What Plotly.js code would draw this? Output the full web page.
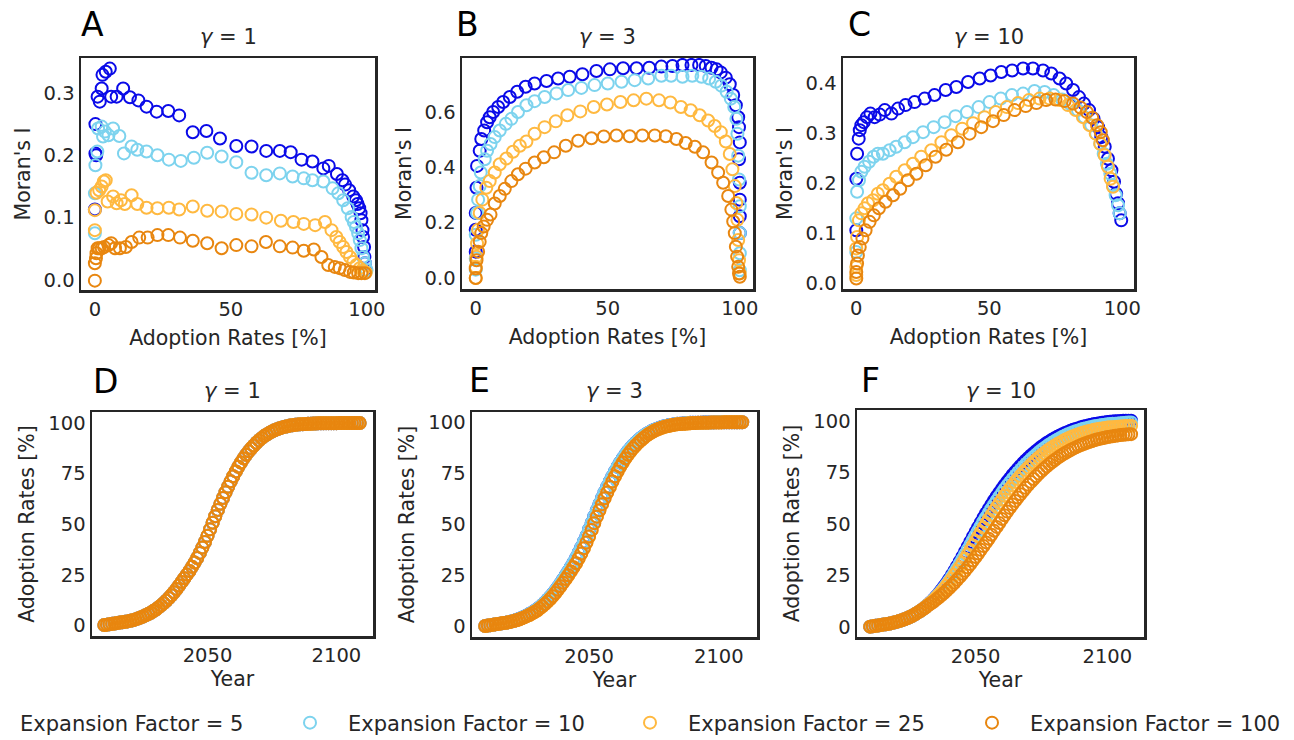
<!DOCTYPE html>
<html><head><meta charset="utf-8">
<script src="https://cdn.plot.ly/plotly-3.0.1.min.js"></script>
<style>
html,body{margin:0;padding:0;overflow:hidden;background:#fff;width:1294px;height:740px}
#chart{position:absolute;left:-56px;top:0;width:1400px;height:740px}
</style>
</head><body><div id="chart"></div>
<script>
// ---------------- DATA ----------------
const seriesNames = ["Expansion Factor = 5","Expansion Factor = 10","Expansion Factor = 25","Expansion Factor = 100"];
const gammaLabels = ["1","3","10"];
const panelLetters = ["A","B","C","D","E","F"];

// Panel A (gamma = 1): Moran's I vs adoption rate
const moranA_x5 = [0,0.2,0.5,0.2,1.0,1.8,2.5,2.8,4,5.5,6,8,10.4,12.9,16,19,22.7,27,31,36,41,46,52,57.6,63,68,72,76,80,84,86,89,91,92,93.5,95,96,96.6,97.2,97.7,98,98.4,98.6,99,99.1,99.3,99.5];
const moranA_y5 = [0.113,0.203,0.200,0.250,0.294,0.286,0.307,0.329,0.334,0.339,0.294,0.294,0.307,0.293,0.288,0.278,0.270,0.271,0.264,0.237,0.239,0.227,0.215,0.214,0.207,0.207,0.205,0.193,0.190,0.179,0.183,0.170,0.160,0.153,0.144,0.134,0.128,0.122,0.115,0.107,0.096,0.080,0.069,0.053,0.037,0.027,0.016];
const moranA_x10 = [0,0,0.2,0.9,1.2,2.5,3.7,3,5,6.7,9,10.7,13.5,15.6,19,23,27.2,31.6,36.4,41.3,46.6,52,57.6,63,68,72.7,76.8,80,84,87.4,89.5,91.3,93,94.4,95.2,96,96.8,97.4,98,98.6,99.3,99.9];
const moranA_y10 = [0.075,0.139,0.184,0.206,0.243,0.246,0.238,0.230,0.232,0.243,0.231,0.203,0.214,0.209,0.206,0.200,0.193,0.191,0.196,0.204,0.198,0.189,0.172,0.168,0.171,0.166,0.163,0.160,0.158,0.147,0.139,0.128,0.115,0.101,0.093,0.085,0.075,0.064,0.051,0.037,0.027,0.016];
const moranA_x25 = [0,0,0.6,1.6,2.5,3.3,4,4.7,6.7,8,9.6,11,13.5,15.6,19,23,27.2,31,36,41.3,46.6,52,57.6,63,68.4,73,76.8,81,84.6,87,88.8,90,91.3,92.5,93.8,95,96.2,97.4,98.6,99.6];
const moranA_y25 = [0.080,0.112,0.140,0.144,0.150,0.158,0.160,0.126,0.134,0.123,0.128,0.122,0.136,0.122,0.116,0.115,0.116,0.113,0.118,0.111,0.110,0.106,0.105,0.100,0.095,0.093,0.090,0.088,0.093,0.080,0.069,0.061,0.053,0.045,0.037,0.029,0.024,0.019,0.015,0.012];
const moranA_x100 = [0,0,0.4,0.6,1,1.6,2.5,3.4,5,6,7.4,9.2,11.4,13.5,16.3,19.4,23,27,31.3,36,41.3,46.6,52,57.6,62.9,68,72.7,76.8,80.5,83.3,85.8,88.2,90,91.9,93.8,95.2,96.8,98,99.3];
const moranA_y100 = [-0.001,0.027,0.035,0.043,0.051,0.051,0.051,0.053,0.056,0.059,0.051,0.051,0.053,0.061,0.068,0.068,0.072,0.072,0.068,0.063,0.059,0.051,0.056,0.054,0.061,0.054,0.052,0.047,0.049,0.037,0.024,0.021,0.019,0.016,0.013,0.012,0.011,0.011,0.011];

// Panel B (gamma = 3)
const moranB_x5 = [0,0,0,0.3,0.5,1.5,2.1,3.2,4.3,5.3,6.6,8.5,10.4,12.9,15.7,18.9,22.3,26.8,31.2,35.6,40.4,45.7,50.8,55.8,60.9,65.7,70.3,74.5,78.3,81.7,84.6,87.1,89.3,91.2,92.8,94.7,96.2,97.5,98.5,99.4,99.7,100,99.7,100,100,100,100];
const moranB_y5 = [0.095,0.174,0.235,0.326,0.405,0.460,0.502,0.533,0.563,0.581,0.600,0.618,0.636,0.654,0.673,0.691,0.703,0.712,0.721,0.727,0.736,0.748,0.754,0.758,0.758,0.760,0.764,0.766,0.770,0.770,0.770,0.766,0.760,0.754,0.743,0.724,0.700,0.661,0.624,0.581,0.545,0.490,0.429,0.344,0.283,0.223,0.162];
const moranB_x10 = [0,0,0,0.5,0.9,1.5,1.9,3.4,4.3,5.6,7.2,9.1,11.4,13.5,16,19.2,22.3,26.1,30.6,35,40,45,50,55.2,60.2,65.3,70.3,74,78.3,82,85.5,88.4,90.9,93,95,96.6,97.9,98.7,99.1,99.4,99.7,100,100,100,100];
const moranB_y10 = [0.030,0.070,0.156,0.235,0.283,0.332,0.381,0.429,0.460,0.484,0.509,0.533,0.557,0.575,0.600,0.624,0.639,0.654,0.667,0.679,0.687,0.697,0.703,0.709,0.715,0.721,0.731,0.731,0.727,0.731,0.727,0.721,0.709,0.695,0.673,0.648,0.618,0.575,0.521,0.442,0.356,0.259,0.162,0.089,0.028];
const moranB_x25 = [0,0,0.3,0.5,0.9,1.5,2.5,4,5.3,7.2,9.1,11.6,14.1,16.7,19.2,22.3,26.1,30.3,34.7,39.6,44.7,49.7,54.8,59.8,64.6,69.4,73.7,77.7,81.4,84.8,88,90.5,92.8,94.7,96.2,97.2,98.1,98.7,99.1,99.4,99.7,100];
const moranB_y25 = [0.000,0.040,0.077,0.125,0.174,0.235,0.283,0.326,0.350,0.381,0.411,0.432,0.456,0.478,0.493,0.521,0.545,0.566,0.588,0.602,0.618,0.627,0.636,0.642,0.648,0.642,0.634,0.618,0.606,0.588,0.569,0.549,0.527,0.493,0.448,0.393,0.332,0.271,0.210,0.137,0.064,0.016];
const moranB_x100 = [0,0,0.3,0.9,1.5,2.1,3,4.3,5.6,7.2,9.1,11,13.5,16,18.9,22.3,25.8,29.7,34.1,38.8,43.8,48.5,53.3,58.3,63.1,67.8,72,76,79.5,83,86.1,89.3,91.8,93.7,95.6,96.8,97.5,98.1,98.5,99,99.4,99.7,100];
const moranB_y100 = [0.000,0.034,0.064,0.095,0.131,0.162,0.186,0.210,0.229,0.269,0.296,0.322,0.350,0.375,0.395,0.417,0.436,0.454,0.478,0.496,0.505,0.511,0.515,0.512,0.515,0.515,0.512,0.502,0.488,0.474,0.454,0.417,0.381,0.344,0.296,0.247,0.204,0.162,0.113,0.077,0.040,0.016,0.004];

// Panel C (gamma = 10)
const moranC_x5 = [0,0,0.3,0.9,1.3,1.9,2.8,4,5.3,6.9,8.8,10.7,13.2,15.7,18.5,21.9,25.7,29.4,33.6,37.6,42,46.4,50.5,54.5,58.6,62.7,66.4,70.2,73.3,76.4,78.9,81.5,83.7,85.6,87.5,89.2,90.9,92.1,93.4,94.6,95.9,96.9,97.7,98.4,99,99.6];
const moranC_y5 = [0.106,0.209,0.259,0.289,0.306,0.316,0.322,0.332,0.339,0.332,0.337,0.346,0.339,0.349,0.356,0.362,0.369,0.376,0.386,0.392,0.402,0.409,0.415,0.422,0.425,0.429,0.429,0.425,0.419,0.409,0.399,0.386,0.372,0.359,0.346,0.329,0.312,0.292,0.273,0.249,0.226,0.203,0.179,0.160,0.140,0.126];
const moranC_x10 = [0,0,0.3,1,1.9,3.1,4.8,6.5,8.1,10,12.5,15,18.2,21.3,25.1,29.1,33.2,37.3,41.6,46,50.1,54.3,58.5,62.7,67,70.8,74.2,77.4,80.5,83.3,85.8,88.3,90.2,91.7,93,94.2,95.5,96.5,97.5,98.4,99];
const moranC_y10 = [0.063,0.130,0.183,0.206,0.223,0.233,0.243,0.253,0.259,0.259,0.266,0.273,0.282,0.292,0.302,0.312,0.322,0.334,0.342,0.352,0.362,0.369,0.376,0.379,0.384,0.382,0.376,0.367,0.358,0.346,0.332,0.316,0.299,0.279,0.259,0.239,0.219,0.196,0.176,0.156,0.140];
const moranC_x25 = [0,0,0,0.3,1,1.9,3.1,4.4,6.3,8.1,10,12.5,15,18.2,21.3,24.4,28.2,32,35.7,39.8,43.9,48.2,52.4,56.6,60.8,64.9,68.9,72.7,76.4,79.6,82.5,85.2,87.7,90,91.7,93.4,94.6,95.6,96.5];
const moranC_y25 = [0.017,0.033,0.070,0.093,0.126,0.140,0.150,0.160,0.166,0.179,0.186,0.199,0.213,0.226,0.239,0.253,0.266,0.282,0.296,0.309,0.320,0.332,0.342,0.352,0.360,0.366,0.369,0.369,0.366,0.356,0.346,0.332,0.316,0.299,0.279,0.256,0.233,0.209,0.193];
const moranC_x100 = [0,0,0.3,0.6,1.3,2.3,3.5,5,6.6,8.5,11,13.8,16.5,19.4,22.6,26.1,29.8,33.8,38.2,42.6,47,51.4,55.4,59.5,63.7,67.7,71.4,74.9,78.3,81.5,84.3,86.7,88.7,90.5,91.9,92.7];
const moranC_y100 = [0.010,0.023,0.040,0.056,0.073,0.090,0.106,0.123,0.136,0.150,0.163,0.176,0.189,0.206,0.219,0.236,0.253,0.267,0.282,0.299,0.312,0.324,0.336,0.346,0.354,0.360,0.366,0.367,0.364,0.359,0.351,0.342,0.331,0.316,0.302,0.286];

// Bottom panels: adoption rate [%] per year
const years = [
 2010,2011,2012,2013,2014,2015,2016,2017,2018,2019,
 2020,2021,2022,2023,2024,2025,2026,2027,2028,2029,
 2030,2031,2032,2033,2034,2035,2036,2037,2038,2039,
 2040,2041,2042,2043,2044,2045,2046,2047,2048,2049,
 2050,2051,2052,2053,2054,2055,2056,2057,2058,2059,
 2060,2061,2062,2063,2064,2065,2066,2067,2068,2069,
 2070,2071,2072,2073,2074,2075,2076,2077,2078,2079,
 2080,2081,2082,2083,2084,2085,2086,2087,2088,2089,
 2090,2091,2092,2093,2094,2095,2096,2097,2098,2099,
 2100,2101,2102,2103,2104,2105,2106,2107,2108,2109];

// gamma = 1 : all four expansion factors coincide
const adoptG1 = [
 0.3,0.5,0.7,0.9,1.1,1.3,1.5,1.7,1.9,2.1,
 2.4,2.7,3.1,3.5,4.0,4.5,5.1,5.7,6.4,7.2,
 8.0,9.0,10.0,11.1,12.3,13.6,15.0,16.5,18.1,19.8,
 21.6,23.4,25.2,27.0,29.0,31.1,33.4,35.9,38.5,41.3,
 44.3,47.5,50.8,54.0,57.1,60.1,63.0,65.8,68.5,71.2,
 73.7,76.1,78.4,80.5,82.5,84.3,86.0,87.5,88.9,90.2,
 91.4,92.5,93.5,94.3,95.1,95.8,96.4,96.9,97.4,97.8,
 98.1,98.4,98.7,98.9,99.1,99.2,99.3,99.4,99.5,99.6,
 99.6,99.7,99.7,99.8,99.8,99.8,99.9,99.9,99.9,99.9,
 99.9,100,100,100,100,100,100,100,100,100];

// gamma = 3 : EF 5 and 10 slightly ahead, EF 25 and 100 slower
const adoptG3Fast = [
 0.3,0.5,0.7,0.9,1.1,1.3,1.5,1.7,1.9,2.2,
 2.5,2.8,3.2,3.7,4.2,4.8,5.4,6.1,6.8,7.6,
 8.5,9.5,10.6,11.8,13.1,14.5,16.0,17.6,19.3,21.1,
 23.0,25.0,27.0,29.1,31.3,33.6,36.1,38.7,41.5,44.4,
 47.5,50.7,53.9,57.0,60.0,62.9,65.7,68.4,71.0,73.5,
 75.9,78.2,80.3,82.3,84.1,85.8,87.3,88.7,90.0,91.2,
 92.3,93.2,94.1,94.9,95.6,96.2,96.7,97.2,97.6,98.0,
 98.3,98.6,98.8,99.0,99.2,99.3,99.4,99.5,99.6,99.7,
 99.7,99.8,99.8,99.8,99.9,99.9,99.9,99.9,99.9,100,
 100,100,100,100,100,100,100,100,100,100];
const adoptG3Slow = [
 0.3,0.5,0.7,0.9,1.1,1.3,1.5,1.7,1.9,2.1,
 2.4,2.7,3.1,3.5,4.0,4.5,5.1,5.7,6.4,7.1,
 7.9,8.9,9.9,11.0,12.2,13.5,14.9,16.4,18.0,19.7,
 21.5,23.3,25.1,27.0,29.0,31.0,33.3,35.7,38.3,41.1,
 44.1,47.3,50.6,53.8,56.9,59.9,62.8,65.6,68.3,71.0,
 73.5,75.9,78.2,80.3,82.3,84.1,85.8,87.3,88.7,90.0,
 91.2,92.3,93.3,94.2,95.0,95.7,96.3,96.8,97.3,97.7,
 98.0,98.3,98.6,98.8,99.0,99.1,99.2,99.3,99.4,99.5,
 99.6,99.6,99.7,99.7,99.8,99.8,99.8,99.9,99.9,99.9,
 99.9,99.9,100,100,100,100,100,100,100,100];

// gamma = 10 : expansion factors diverge
const adoptG10_5 = [
 0.3,0.5,0.7,0.9,1.1,1.3,1.5,1.7,2.0,2.3,
 2.6,3.0,3.4,3.9,4.4,5.0,5.6,6.3,7.1,7.9,
 8.8,9.8,10.9,12.1,13.4,14.8,16.3,17.9,19.6,21.4,
 23.3,25.3,27.4,29.6,31.9,34.2,36.6,39.0,41.4,43.8,
 46.2,48.5,50.8,53.0,55.2,57.3,59.4,61.4,63.3,65.2,
 67.0,68.8,70.5,72.1,73.7,75.2,76.7,78.1,79.5,80.8,
 82.0,83.2,84.3,85.4,86.4,87.4,88.3,89.2,90.0,90.8,
 91.5,92.2,92.9,93.5,94.1,94.6,95.1,95.6,96.0,96.4,
 96.8,97.2,97.5,97.8,98.1,98.4,98.6,98.8,99.0,99.2,
 99.4,99.5,99.6,99.7,99.8,99.9,100,100,100,100];
const adoptG10_10 = [
 0.3,0.5,0.7,0.9,1.1,1.3,1.5,1.7,2.0,2.3,
 2.6,3.0,3.4,3.9,4.4,5.0,5.6,6.3,7.1,7.9,
 8.8,9.8,10.9,12.0,13.2,14.6,16.0,17.5,19.1,20.8,
 22.6,24.5,26.5,28.6,30.8,33.0,35.3,37.6,39.9,42.2,
 44.5,46.8,49.0,51.2,53.3,55.4,57.4,59.4,61.3,63.2,
 65.0,66.8,68.5,70.1,71.7,73.2,74.7,76.1,77.5,78.8,
 80.1,81.3,82.5,83.6,84.7,85.7,86.7,87.6,88.5,89.3,
 90.1,90.8,91.5,92.2,92.8,93.4,93.9,94.4,94.9,95.3,
 95.7,96.1,96.4,96.7,97.0,97.3,97.5,97.7,97.9,98.1,
 98.3,98.4,98.5,98.6,98.7,98.8,98.9,99.0,99.1,99.2];
const adoptG10_25 = [
 0.3,0.5,0.7,0.9,1.1,1.3,1.5,1.7,2.0,2.3,
 2.6,3.0,3.4,3.9,4.4,5.0,5.6,6.3,7.1,7.9,
 8.8,9.8,10.9,11.9,13.0,14.3,15.6,17.0,18.5,20.1,
 21.8,23.5,25.3,27.2,29.1,31.1,33.2,35.3,37.4,39.6,
 41.8,44.0,46.1,48.2,50.3,52.3,54.3,56.3,58.2,60.1,
 61.9,63.7,65.4,67.1,68.7,70.3,71.8,73.3,74.7,76.1,
 77.4,78.7,79.9,81.1,82.2,83.3,84.3,85.3,86.2,87.1,
 87.9,88.7,89.4,90.1,90.8,91.4,92.0,92.5,93.0,93.5,
 93.9,94.3,94.7,95.0,95.3,95.6,95.9,96.1,96.3,96.5,
 96.7,96.8,96.9,97.0,97.1,97.2,97.3,97.4,97.5,97.6];
const adoptG10_100 = [
 0.3,0.5,0.7,0.9,1.1,1.3,1.5,1.7,2.0,2.3,
 2.6,3.0,3.4,3.9,4.4,5.0,5.6,6.3,7.1,7.9,
 8.7,9.6,10.6,11.5,12.4,13.4,14.4,15.5,16.6,17.8,
 19.0,20.3,21.6,23.0,24.4,25.9,27.4,29.0,30.6,32.3,
 34.0,35.7,37.5,39.3,41.1,42.9,44.8,46.7,48.6,50.5,
 52.4,54.2,56.0,57.8,59.5,61.2,62.8,64.4,66.0,67.5,
 69.0,70.4,71.8,73.1,74.4,75.6,76.8,77.9,79.0,80.0,
 81.0,81.9,82.8,83.6,84.4,85.1,85.8,86.5,87.1,87.7,
 88.2,88.7,89.2,89.7,90.1,90.5,90.9,91.2,91.5,91.8,
 92.1,92.3,92.5,92.7,92.9,93.1,93.2,93.3,93.4,93.5];

// ---------------- STYLE / LAYOUT ----------------
const colors = ["#0a0ae8","#7dd3ee","#ffb940","#e8860f"];
const legendWidths = [247,259,261,264];
const FONT = "DejaVu Sans";
const INK = "#262626";
const W = 1400, H = 740, OFF = 56;
const fx = p => (p + OFF) / W;
const fy = p => 1 - p / H;

const panelSeries = [
  [[moranA_x5,moranA_y5],[moranA_x10,moranA_y10],[moranA_x25,moranA_y25],[moranA_x100,moranA_y100]],
  [[moranB_x5,moranB_y5],[moranB_x10,moranB_y10],[moranB_x25,moranB_y25],[moranB_x100,moranB_y100]],
  [[moranC_x5,moranC_y5],[moranC_x10,moranC_y10],[moranC_x25,moranC_y25],[moranC_x100,moranC_y100]],
  [[years,adoptG1],[years,adoptG1],[years,adoptG1],[years,adoptG1]],
  [[years,adoptG3Fast],[years,adoptG3Fast],[years,adoptG3Slow],[years,adoptG3Slow]],
  [[years,adoptG10_5],[years,adoptG10_10],[years,adoptG10_25],[years,adoptG10_100]]
];

// pixel boxes [left,right,top,bottom] in page px
const boxes = [
  [81,375,58,290],[462,753,58,289],[843,1134,58,289],
  [92,373,412,636],[472,757,412,637],[857,1144,410,637]
];
const xRanges = [[-5.1,103],[-5.2,105],[-5.0,104.4],[2005.2,2114.2],[2004.9,2114.7],[2005,2113.9]];
const yRanges = [[-0.016,0.356],[-0.04,0.795],[-0.011,0.45],[-5.1,105.4],[-5.1,105],[-4.7,105.2]];
const yDticks = [0.1,0.2,0.1,25,25,25];
const letterPos = [[79,24],[454,24],[846,24],[91,382],[467,380],[859,380]];

const traces = [];
const layout = {
  width: W, height: H,
  margin: {l:0,r:0,t:0,b:0,autoexpand:false},
  paper_bgcolor: "#fff", plot_bgcolor: "#fff",
  font: {family: FONT, color: INK, size: 20},
  showlegend: true,
  legend: {orientation:"h", x:0, xanchor:"left", y:fy(723), yanchor:"middle",
           font:{family:FONT, size:21, color:INK}, itemwidth:66, bgcolor:"rgba(0,0,0,0)",
           borderwidth:0},
  annotations: []
};

for (let p = 0; p < 6; p++) {
  const xn = p === 0 ? "x" : "x" + (p+1);
  const yn = p === 0 ? "y" : "y" + (p+1);
  const [l, r, t, b] = boxes[p];
  const top = p < 3;
  const axCommon = {showgrid:false, zeroline:false, showline:true, mirror:true,
    linecolor:INK, linewidth:2.5, ticks:"", tickfont:{family:FONT, size:19.5, color:INK}};
  layout["xaxis" + (p === 0 ? "" : p+1)] = Object.assign({}, axCommon, {
    domain:[fx(l), fx(r)], anchor: yn, range: xRanges[p],
    tickvals: top ? [0,50,100] : [2050,2100],
    title:{text: top ? "Adoption Rates [%]" : "Year", font:{family:FONT,size:20.5,color:INK}, standoff: top ? 11 : 6}
  });
  layout["yaxis" + (p === 0 ? "" : p+1)] = Object.assign({}, axCommon, {
    domain:[fy(b), fy(t)], anchor: xn, range: yRanges[p],
    dtick: yDticks[p], tick0: 0, tickformat: top ? ".1f" : "d",
    title:{text: top ? "Moran's I" : "Adoption Rates [%]", font:{family:FONT,size:20.5,color:INK}, standoff:8}
  });
  for (let s = 0; s < 4; s++) {
    const [xs, ys] = panelSeries[p][s];
    traces.push({
      type:"scatter", mode:"markers", x: xs, y: ys, xaxis: xn, yaxis: yn,
      name: seriesNames[s], showlegend: p === 0, legendwidth: legendWidths[s],
      marker:{symbol:"circle-open", size:12, color:colors[s], line:{width:2, color:colors[s]}},
      hoverinfo:"skip"
    });
  }
  layout.annotations.push({
    xref:"paper", yref:"paper", x: fx((l+r)/2), y: fy(top ? 37 : 391),
    xanchor:"center", yanchor:"middle", showarrow:false,
    text:"<i>γ</i> = " + gammaLabels[p % 3], font:{family:FONT, size:21, color:INK}
  });
  layout.annotations.push({
    xref:"paper", yref:"paper", x: fx(letterPos[p][0]), y: fy(letterPos[p][1]),
    xanchor:"left", yanchor:"middle", showarrow:false,
    text: panelLetters[p], font:{family:FONT, size:33, color:"#000"}
  });
}

Plotly.newPlot("chart", traces, layout, {displayModeBar:false, staticPlot:true});
</script></body></html>
